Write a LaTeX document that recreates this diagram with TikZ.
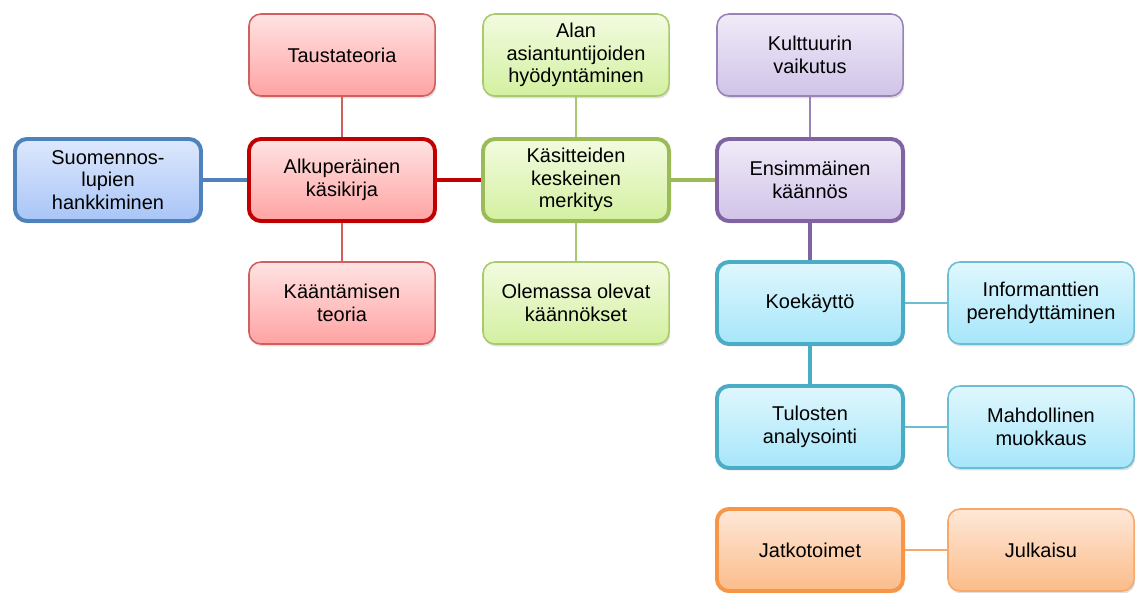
\documentclass[tikz,border=0pt]{standalone}
\usepackage{fontspec}
\setmainfont{Liberation Sans}
\usetikzlibrary{shadows}

\definecolor{redline}{HTML}{C00000}
\definecolor{redthin}{HTML}{D0605E}
\definecolor{redtop}{HTML}{FFE3E3}
\definecolor{redbot}{HTML}{FFA3A3}
\definecolor{blueline}{HTML}{4F81BD}
\definecolor{bluetop}{HTML}{DDE8FC}
\definecolor{bluebot}{HTML}{A8C5F7}
\definecolor{greenline}{HTML}{9BBB59}
\definecolor{greenthin}{HTML}{A8CA6A}
\definecolor{greentop}{HTML}{F3FBE0}
\definecolor{greenbot}{HTML}{D3F0A0}
\definecolor{purpleline}{HTML}{8064A2}
\definecolor{purplethin}{HTML}{9A83B8}
\definecolor{purpletop}{HTML}{F0EBF8}
\definecolor{purplebot}{HTML}{D0C3E8}
\definecolor{cyanline}{HTML}{4BACC6}
\definecolor{cyanthin}{HTML}{6ABDD3}
\definecolor{cyantop}{HTML}{E0F7FD}
\definecolor{cyanbot}{HTML}{A6E6FA}
\definecolor{orangeline}{HTML}{F79646}
\definecolor{orangethin}{HTML}{F8A868}
\definecolor{orangetop}{HTML}{FEE8D8}
\definecolor{orangebot}{HTML}{FBBC8A}

\tikzset{
  box/.style={rounded corners=0.3cm, minimum width=4.65cm, minimum height=2.05cm,
    align=center, inner sep=2pt,
    font=\fontsize{14.2}{16}\selectfont,
    drop shadow={shadow xshift=0.03cm, shadow yshift=-0.06cm, opacity=0.25}},
  mainbox/.style={box, line width=2.8pt, draw=#1line, top color=#1top, bottom color=#1bot},
  sidebox/.style={box, line width=1.1pt, draw=#1thin, top color=#1top, bottom color=#1bot},
  bluebox/.style={box, line width=2.8pt, draw=blueline, top color=bluetop, bottom color=bluebot},
  mainlink/.style={line width=2.8pt, draw=#1line},
  sidelink/.style={line width=1.1pt, draw=#1thin},
}

\begin{document}
\begin{tikzpicture}[x=0.025cm, y=-0.025cm]

    % these coordinates fix the picture's total size
    \useasboundingbox (0,0) rectangle (1136,592);

    %first column
    \node (lupa) at (108,180) [bluebox] {Suomennos-\\lupien\\hankkiminen};

    %second column
    \node (tausta) at (342,55) [sidebox=red] {Taustateoria};
    \node (alku) at (342,180) [mainbox=red] {Alkuperäinen\\käsikirja};
    \node (teoria) at (342,303) [sidebox=red] {Kääntämisen\\teoria};

    %third column
    \node (alan) at (576,55) [sidebox=green] {Alan\\asiantuntijoiden\\hyödyntäminen};
    \node (kasite) at (576,180) [mainbox=green] {Käsitteiden\\keskeinen\\merkitys};
    \node (olemassa) at (576,303) [sidebox=green] {Olemassa olevat\\käännökset};

    %fourth column
    \node (kulttuuri) at (810,55) [sidebox=purple] {Kulttuurin\\vaikutus};
    \node (ensim) at (810,180) [mainbox=purple] {Ensimmäinen\\käännös};
    \node (koe) at (810,303) [mainbox=cyan] {Koekäyttö};
    \node (tulos) at (810,427) [mainbox=cyan] {Tulosten\\analysointi};
    \node (jatko) at (810,550) [mainbox=orange] {Jatkotoimet};

    %fifth column
    \node (info) at (1041,303) [sidebox=cyan] {Informanttien\\perehdyttäminen};
    \node (muokkaus) at (1041,427) [sidebox=cyan] {Mahdollinen\\muokkaus};
    \node (julkaisu) at (1041,550) [sidebox=orange] {Julkaisu};

    %main line
    \begin{scope}[line cap=butt]
    \draw [line width=2.8pt, blueline] (lupa) -- (alku);
    \draw [mainlink=red] (alku) -- (kasite);
    \draw [mainlink=green] (kasite) -- (ensim);
    \draw [mainlink=purple] (ensim) -- (koe);
    \draw [mainlink=cyan] (koe) -- (tulos);
    \end{scope}

    %side branches
    \draw [sidelink=red] (tausta) -- (alku) -- (teoria);
    \draw [sidelink=green] (alan) -- (kasite) -- (olemassa);
    \draw [sidelink=purple] (kulttuuri) -- (ensim);
    \draw [sidelink=cyan] (koe) -- (info);
    \draw [sidelink=cyan] (tulos) -- (muokkaus);
    \draw [sidelink=orange] (jatko) -- (julkaisu);

\end{tikzpicture}
\end{document}
